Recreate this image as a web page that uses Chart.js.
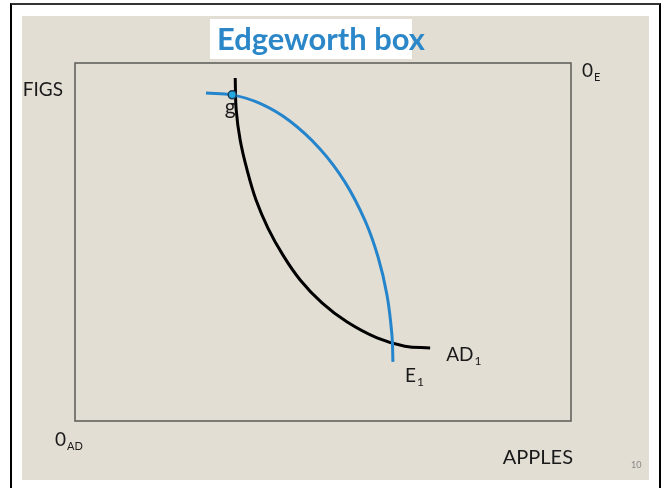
<!DOCTYPE html>
<html>
<head>
<meta charset="utf-8">
<script src="https://cdn.jsdelivr.net/npm/chart.js@4.4.1/dist/chart.umd.min.js"></script>
<style>
  html, body { margin: 0; padding: 0; background: #fff; }
  #frame { position: absolute; left: 10px; top: 3px; width: 647px; height: 500px;
           border-left: 2px solid #000; border-right: 2px solid #000; border-top: 2px solid #333; }
  #slide { position: absolute; left: 22px; top: 16px; width: 627px; height: 464px; background: #e3ded4; }
  #c { position: absolute; left: 0; top: 0; }
</style>
</head>
<body>
<div id="frame"></div>
<div id="slide"></div>
<canvas id="c" width="667" height="488"></canvas>
<script>
// curve data (apples on x, figs on y, box is 0..100 both ways)
const adX = [32.3, 32.5, 33.3, 34.7, 36.5, 38.9, 41.9, 45.4, 49.8, 54.8, 60.9, 66.5, 71.6];
const adY = [95.8, 86.9, 78.5, 70.1, 61.7, 53.9, 46.4, 39.4, 33.0, 27.7, 23.2, 20.9, 20.4];

const eX = [26.4, 31.7, 37.3, 43.3, 49.4, 54.4, 58.5, 61.1, 62.9, 63.9, 64.1];
const eY = [91.6, 91.1, 88.7, 83.8, 76.0, 66.8, 55.9, 45.8, 35.2, 24.0, 16.5];

const gPoint = {x: 31.7, y: 91.1};

function toPts(xs, ys) {
    let pts = []
    for (let i = 0; i < xs.length; i++) pts.push({x: xs[i], y: ys[i]})
    return pts
}

const labelFont = '"Lato", "DejaVu Sans", sans-serif';

function subText(ctx, big, small, x, y, bigSize, smallSize) {
    ctx.textAlign = 'left';
    ctx.textBaseline = 'alphabetic';
    ctx.font = bigSize + 'px ' + labelFont;
    let w1 = ctx.measureText(big).width;
    ctx.fillText(big, x, y);
    ctx.font = smallSize + 'px ' + labelFont;
    ctx.fillText(small, x + w1 + 1, y + smallSize * 0.35);
}

const slidePlugin = {
    id: 'slide',
    beforeDatasetsDraw(chart) {
        const ctx = chart.ctx, a = chart.chartArea;
        ctx.save();
        ctx.strokeStyle = '#5a5a55';
        ctx.lineWidth = 1.5;
        ctx.strokeRect(a.left, a.top, a.right - a.left, a.bottom - a.top);
        ctx.restore();
    },
    afterDraw(chart) {
        const ctx = chart.ctx, a = chart.chartArea;
        const sx = chart.scales.x, sy = chart.scales.y;
        ctx.save();

        // title
        ctx.fillStyle = '#fff';
        ctx.fillRect(210, 19, 202, 40);
        let size = 26;
        ctx.font = 'bold ' + size + 'px ' + labelFont;
        size = size * 208 / ctx.measureText('Edgeworth box').width;
        ctx.font = 'bold ' + size + 'px ' + labelFont;
        ctx.fillStyle = '#2b87c8';
        ctx.textAlign = 'left';
        ctx.textBaseline = 'alphabetic';
        ctx.fillText('Edgeworth box', 217, 50);

        ctx.fillStyle = '#1a1a1a';
        ctx.font = '19px ' + labelFont;
        ctx.textAlign = 'right';
        ctx.textBaseline = 'middle';
        ctx.fillText('FIGS', a.left - 12, 90);

        ctx.font = '20px ' + labelFont;
        ctx.textAlign = 'right';
        ctx.textBaseline = 'alphabetic';
        ctx.fillText('APPLES', a.right + 2, a.bottom + 43);

        subText(ctx, '0', 'E', a.right + 11, a.top + 14, 19, 11);
        subText(ctx, '0', 'AD', a.left - 20, a.bottom + 25, 19, 11);

        ctx.fillStyle = '#888';
        ctx.font = '9px ' + labelFont;
        ctx.textAlign = 'left';
        ctx.fillText('10', 631, 468);

        // curve labels
        ctx.fillStyle = '#1a1a1a';
        ctx.font = '21px ' + labelFont;
        ctx.textAlign = 'center';
        ctx.fillText('g', sx.getPixelForValue(gPoint.x) - 2, sy.getPixelForValue(gPoint.y) + 19);
        subText(ctx, 'E', '1', sx.getPixelForValue(eX[eX.length - 1]) + 12, sy.getPixelForValue(eY[eY.length - 1]) + 20, 19, 12);
        subText(ctx, 'AD', '1', sx.getPixelForValue(adX[adX.length - 1]) + 16, sy.getPixelForValue(adY[adY.length - 1]) + 13, 19, 12);
        ctx.restore();
    }
};

new Chart(document.getElementById('c'), {
    type: 'scatter',
    data: {
        datasets: [
            {
                label: 'AD1',
                data: toPts(adX, adY),
                showLine: true,
                borderColor: '#000',
                borderWidth: 3,
                pointRadius: 0,
                tension: 0.4,
                order: 2
            },
            {
                label: 'E1',
                data: toPts(eX, eY),
                showLine: true,
                borderColor: '#2585cc',
                borderWidth: 3,
                pointRadius: 0,
                tension: 0.4,
                order: 1
            },
            {
                label: 'g',
                data: [gPoint],
                pointRadius: 4,
                pointBackgroundColor: '#22a9e3',
                pointBorderColor: '#1d3d55',
                pointBorderWidth: 1.5,
                order: 0
            }
        ]
    },
    options: {
        responsive: false,
        animation: false,
        layout: { padding: { left: 75, right: 96, top: 63, bottom: 67 } },
        scales: {
            x: { display: false, min: 0, max: 100 },
            y: { display: false, min: 0, max: 100 }
        },
        plugins: {
            legend: { display: false },
            tooltip: { enabled: false }
        }
    },
    plugins: [slidePlugin]
});
</script>
</body>
</html>
